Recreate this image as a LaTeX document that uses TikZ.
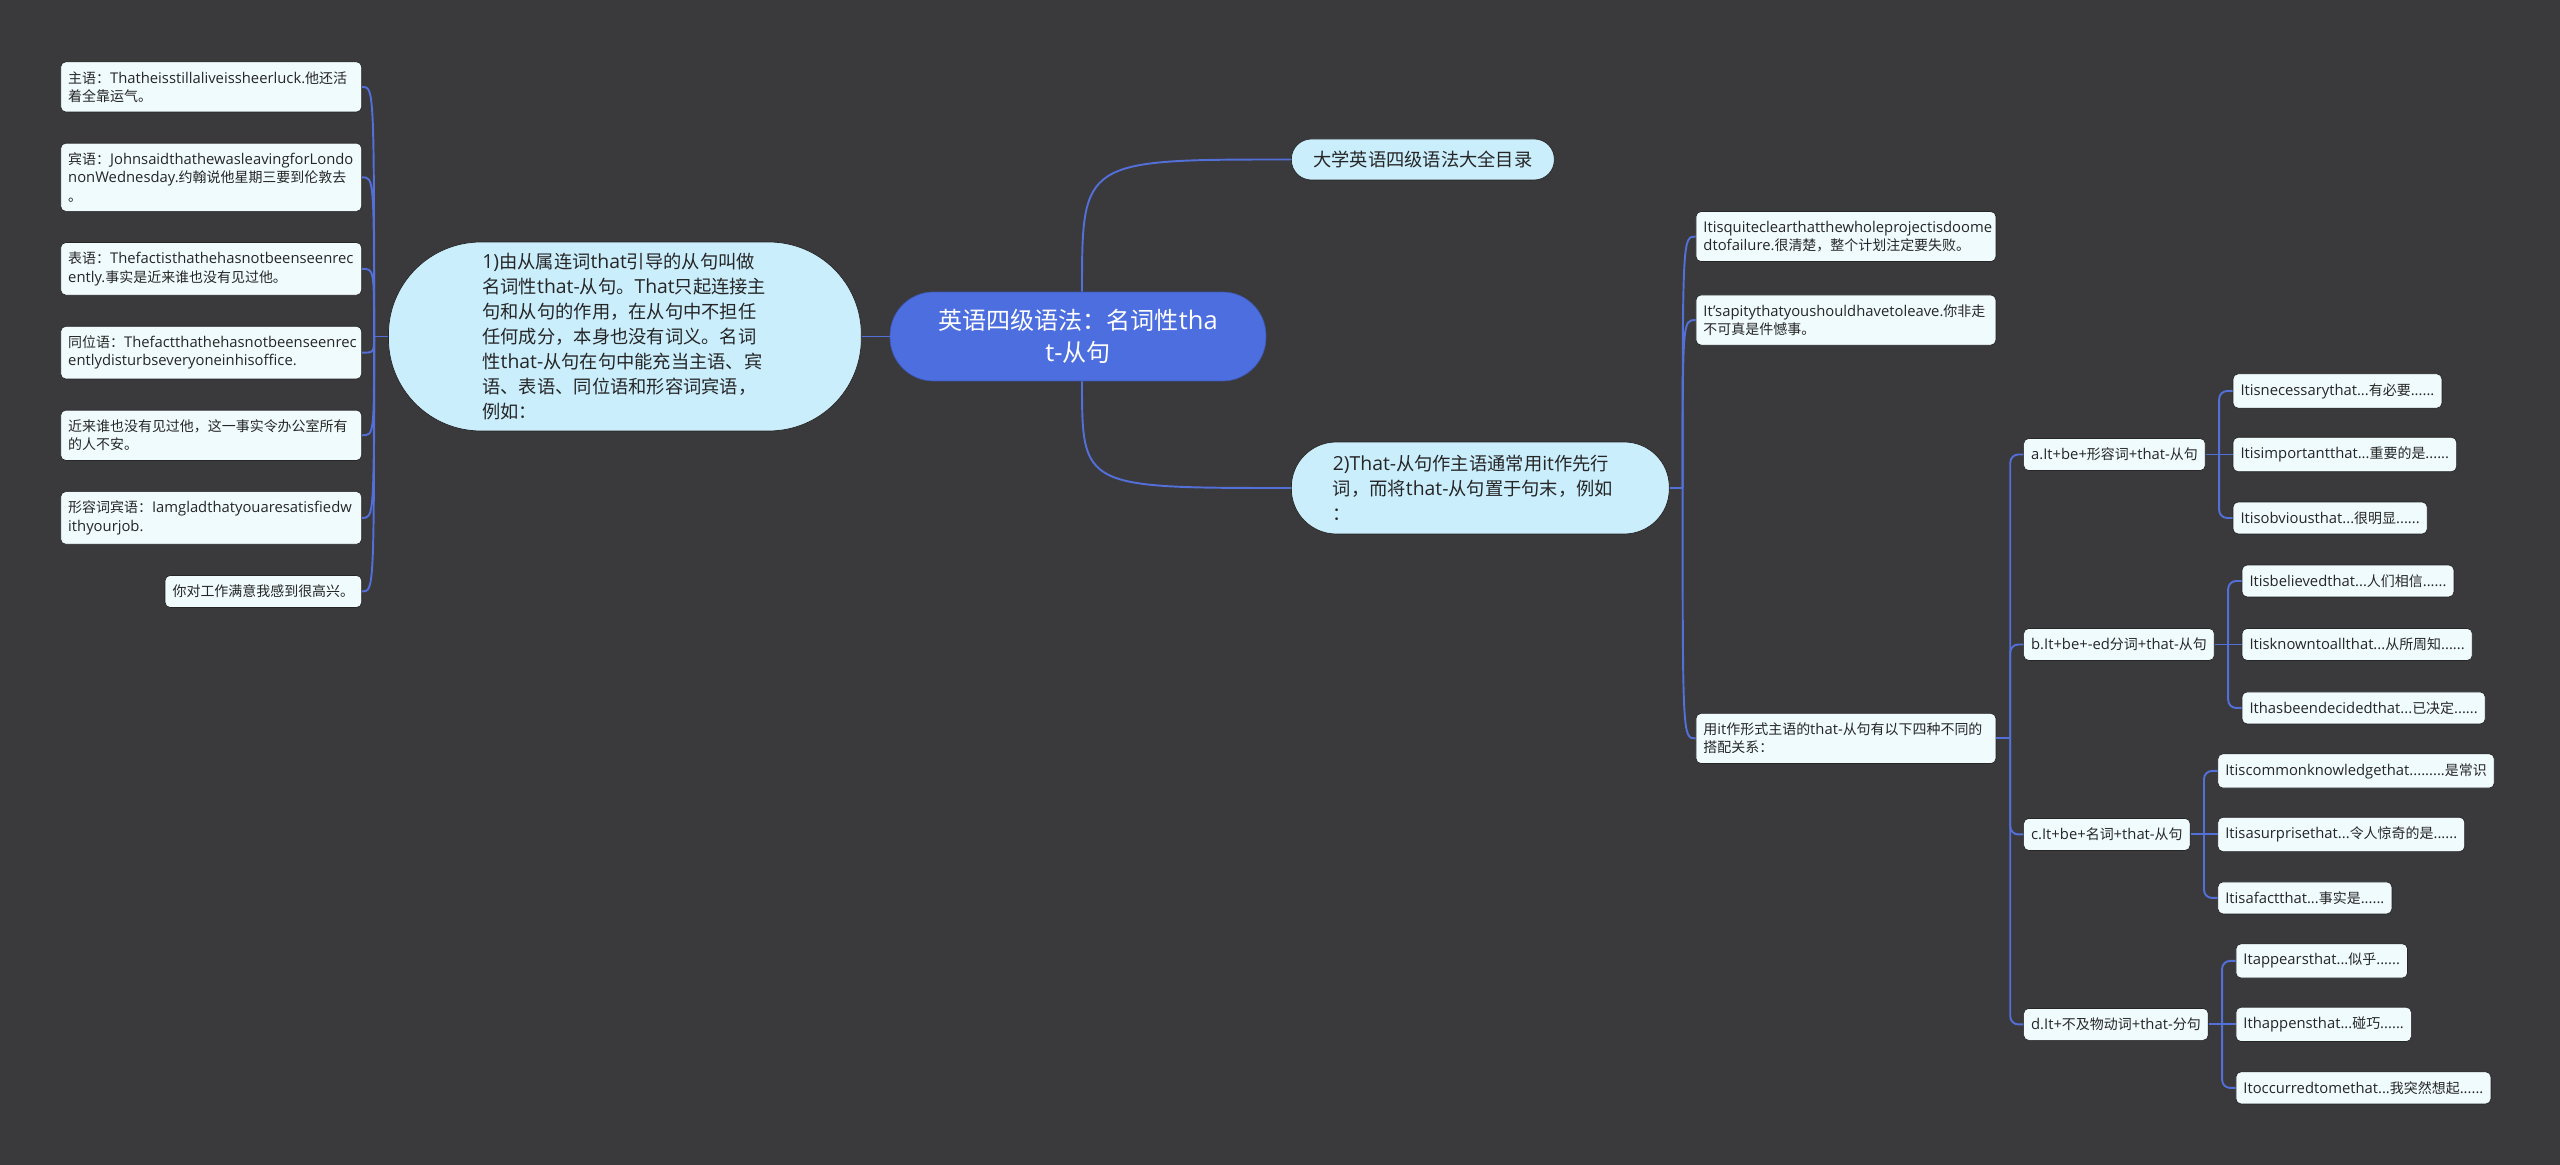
\documentclass[tikz,border=0pt]{standalone}
\usepackage{fontspec}
\setmainfont{Open Sans}[Scale=1.06]
\newfontfamily\cjk{Noto Sans CJK SC}
\usepackage{tikz}
\usetikzlibrary{positioning}
\usepackage{xcolor}
\definecolor{mapdark}{HTML}{3A393C}
\definecolor{mapblue}{HTML}{4D6EDF}
\definecolor{mapcyan}{HTML}{CBEEFC}
\definecolor{mapice}{HTML}{F0FBFD}
\definecolor{mapline}{HTML}{536FD8}
\definecolor{mapedge}{HTML}{262626}
\hyphenpenalty=10000
\exhyphenpenalty=10000
% Han characters and full-width punctuation switch to the CJK face
\chardef\hanclass=7
\XeTeXinterchartokenstate=1
\count255="2E80
\loop
  \XeTeXcharclass\count255=\hanclass
  \advance\count255 by 1
\ifnum\count255<"A000 \repeat
\count255="FF00
\loop
  \XeTeXcharclass\count255=\hanclass
  \advance\count255 by 1
\ifnum\count255<"FFF0 \repeat
\XeTeXinterchartoks 0 \hanclass = {\cjk}
\XeTeXinterchartoks 4095 \hanclass = {\cjk}
\XeTeXinterchartoks \hanclass 0 = {\rmfamily}
\XeTeXinterchartoks 4095 0 = {\rmfamily}
\tikzset{
  rootbox/.style={
    rounded corners=0.87cm,
    draw=mapblue!80!black,
    fill=mapblue,
    text=white,
    minimum width=7.52cm,
    minimum height=1.78cm,
    align=center,
    font=\fontsize{13.7}{18.1}\selectfont
  },
  topicbox/.style={
    rounded corners=#1,
    draw=mapedge,
    fill=mapcyan,
    text=black!85,
    align=left,
    font=\fontsize{10.4}{14.2}\selectfont
  },
  topicbox/.default=0.4cm,
  leafbox/.style={
    rounded corners=0.1cm,
    draw=mapedge,
    fill=mapice,
    text=black!85,
    inner xsep=0.15cm,
    inner ysep=0.19cm,
    align=left,
    font=\fontsize{7.95}{10.4}\selectfont
  },
  link/.style={
    draw=mapline,
    line width=1.1pt
  },
  elbow/.style={
    link,
    rounded corners=0.16cm
  }
}
\begin{document}
\begin{tikzpicture}[x=0.02cm, y=-0.02cm]
\fill[mapdark] (0,0) rectangle (2560,1165);
\node[rootbox] (root) at (1078,336.5) {英语四级语法：名词性tha\\t-从句};
\node[topicbox=1.85cm, minimum width=9.46cm, minimum height=3.78cm, text width=5.7cm, left=0.56cm of root] (def) {1)由从属连词that引导的从句叫做\\名词性that-从句。That只起连接主\\句和从句的作用，在从句中不担任\\任何成分，本身也没有词义。名词\\性that-从句在句中能充当主语、宾\\语、表语、同位语和形容词宾语，\\例如：};
\node[topicbox, minimum width=5.26cm, minimum height=0.82cm, align=center, anchor=west] (toc) at (1291,159.5) {大学英语四级语法大全目录};
\node[topicbox=0.9cm, minimum width=7.56cm, minimum height=1.84cm, text width=5.9cm, anchor=west] (ex) at (1291,488) {2)That-从句作主语通常用it作先行\\词，而将that-从句置于句末，例如\\：};

\node[leafbox, text width=5.72cm, anchor=north east] (subj) at (362,61.5) {主语：Thatheisstillaliveissheerluck.他还活\\着全靠运气。};
\node[leafbox, text width=5.72cm, below=0.61cm of subj.south east, anchor=north east] (obj) {宾语：JohnsaidthathewasleavingforLondo\\nonWednesday.约翰说他星期三要到伦敦去\\。};
\node[leafbox, text width=5.72cm, below=0.61cm of obj.south east, anchor=north east] (pred) {表语：Thefactisthathehasnotbeenseenrec\\ently.事实是近来谁也没有见过他。};
\node[leafbox, text width=5.72cm, below=0.61cm of pred.south east, anchor=north east] (appo) {同位语：Thefactthathehasnotbeenseenrec\\entlydisturbseveryoneinhisoffice.};
\node[leafbox, text width=5.72cm, below=0.61cm of appo.south east, anchor=north east] (upset) {近来谁也没有见过他，这一事实令办公室所有\\的人不安。};
\node[leafbox, text width=5.72cm, below=0.61cm of upset.south east, anchor=north east] (adj) {形容词宾语：Iamgladthatyouaresatisfiedw\\ithyourjob.};
\node[leafbox, below=0.61cm of adj.south east, anchor=north east] (glad) {你对工作满意我感到很高兴。};

\node[leafbox, text width=5.7cm, right=0.52cm of ex, yshift=5.03cm] (clear) {Itisquiteclearthatthewholeprojectisdoome\\dtofailure.很清楚，整个计划注定要失败。};
\node[leafbox, text width=5.7cm, right=0.52cm of ex, yshift=3.36cm] (pity) {It'sapitythatyoushouldhavetoleave.你非走\\不可真是件憾事。};
\node[leafbox, text width=5.7cm, right=0.52cm of ex, yshift=-5.01cm] (forms) {用it作形式主语的that-从句有以下四种不同的\\搭配关系：};

\node[leafbox, right=0.54cm of forms, yshift=5.68cm] (adjform) {a.It+be+形容词+that-从句};
\node[leafbox, right=0.54cm of forms, yshift=1.88cm] (edform) {b.It+be+-ed分词+that-从句};
\node[leafbox, right=0.54cm of forms, yshift=-1.92cm] (nounform) {c.It+be+名词+that-从句};
\node[leafbox, right=0.54cm of forms, yshift=-5.72cm] (verbform) {d.It+不及物动词+that-分句};

\node[leafbox, right=0.54cm of adjform, yshift=1.27cm] (necessary) {Itisnecessarythat...有必要......};
\node[leafbox, right=0.54cm of adjform] (important) {Itisimportantthat...重要的是......};
\node[leafbox, right=0.54cm of adjform, yshift=-1.27cm] (obvious) {Itisobviousthat...很明显......};
\node[leafbox, right=0.54cm of edform, yshift=1.27cm] (believed) {Itisbelievedthat...人们相信......};
\node[leafbox, right=0.54cm of edform] (known) {Itisknowntoallthat...从所周知......};
\node[leafbox, right=0.54cm of edform, yshift=-1.27cm] (decided) {Ithasbeendecidedthat...已决定......};
\node[leafbox, right=0.54cm of nounform, yshift=1.27cm] (common) {Itiscommonknowledgethat.........是常识};
\node[leafbox, right=0.54cm of nounform] (surprise) {Itisasurprisethat...令人惊奇的是......};
\node[leafbox, right=0.54cm of nounform, yshift=-1.27cm] (isfact) {Itisafactthat...事实是......};
\node[leafbox, right=0.54cm of verbform, yshift=1.27cm] (appears) {Itappearsthat...似乎......};
\node[leafbox, right=0.54cm of verbform] (happens) {Ithappensthat...碰巧......};
\node[leafbox, right=0.54cm of verbform, yshift=-1.27cm] (occurred) {Itoccurredtomethat...我突然想起......};

\coordinate (rt) at ([xshift=0.08cm]root.north);
\coordinate (rb) at ([xshift=0.08cm]root.south);
\coordinate (jl) at ([xshift=-0.28cm]def.west);
\coordinate (jr) at ([xshift=0.26cm]ex.east);
\coordinate (jf) at ([xshift=0.28cm]forms.east);
\coordinate (ja) at ([xshift=0.27cm]adjform.east);
\coordinate (jb) at ([xshift=0.27cm]edform.east);
\coordinate (jc) at ([xshift=0.27cm]nounform.east);
\coordinate (jd) at ([xshift=0.27cm]verbform.east);

\draw[link] (root.west) -- (def.east);
\draw[link] (rt) .. controls (rt |- toc.west) .. (toc.west);
\draw[link] (rb) .. controls (rb |- ex.west) .. (ex.west);

\draw[link] (def.west) -- (jl);
\draw[link] (jl) .. controls (jl |- subj.east) .. (subj.east);
\draw[link] (jl) .. controls (jl |- obj.east) .. (obj.east);
\draw[link] (jl) .. controls (jl |- pred.east) .. (pred.east);
\draw[link] (jl) .. controls (jl |- appo.east) .. (appo.east);
\draw[link] (jl) .. controls (jl |- upset.east) .. (upset.east);
\draw[link] (jl) .. controls (jl |- adj.east) .. (adj.east);
\draw[link] (jl) .. controls (jl |- glad.east) .. (glad.east);

\draw[link] (ex.east) -- (jr);
\draw[link] (jr) .. controls (jr |- clear.west) .. (clear.west);
\draw[link] (jr) .. controls (jr |- pity.west) .. (pity.west);
\draw[link] (jr) .. controls (jr |- forms.west) .. (forms.west);

\draw[link] (forms.east) -- (jf);
\draw[elbow] (jf) |- (adjform.west);
\draw[elbow] (jf) |- (edform.west);
\draw[elbow] (jf) |- (nounform.west);
\draw[elbow] (jf) |- (verbform.west);

\draw[link] (adjform.east) -- (important.west);
\draw[elbow] (ja) |- (necessary.west);
\draw[elbow] (ja) |- (obvious.west);
\draw[link] (edform.east) -- (known.west);
\draw[elbow] (jb) |- (believed.west);
\draw[elbow] (jb) |- (decided.west);
\draw[link] (nounform.east) -- (surprise.west);
\draw[elbow] (jc) |- (common.west);
\draw[elbow] (jc) |- (isfact.west);
\draw[link] (verbform.east) -- (happens.west);
\draw[elbow] (jd) |- (appears.west);
\draw[elbow] (jd) |- (occurred.west);
\end{tikzpicture}
\end{document}
